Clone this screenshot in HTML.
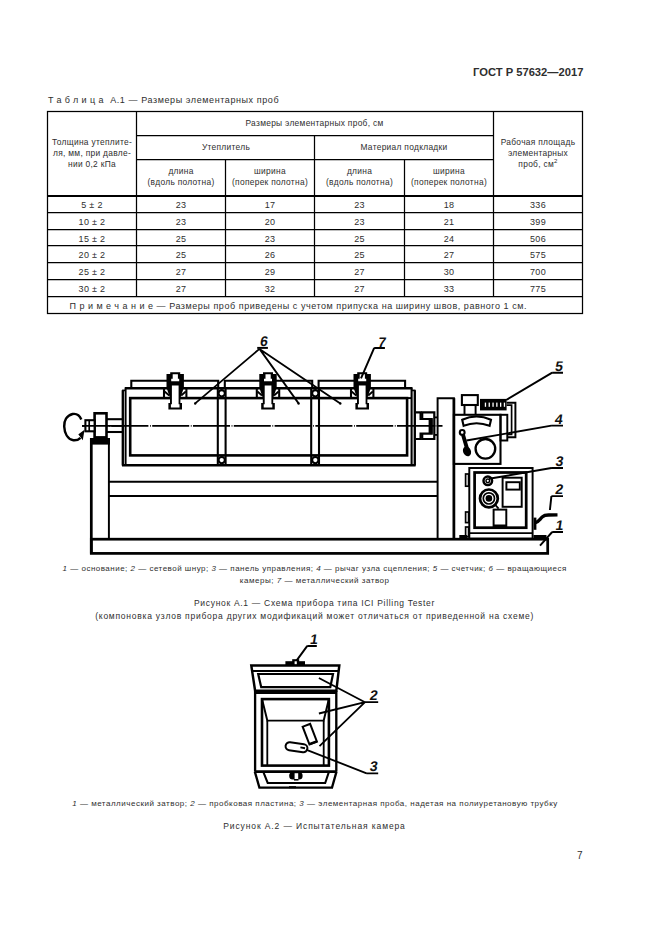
<!DOCTYPE html>
<html><head><meta charset="utf-8">
<style>
html,body{margin:0;padding:0;background:#fff;}
body{width:661px;height:936px;position:relative;overflow:hidden;font-family:"Liberation Sans",sans-serif;color:#2e2e2e;}
.t{position:absolute;white-space:nowrap;line-height:1;}
.c{position:absolute;white-space:nowrap;line-height:1;text-align:center;width:600px;}
i{font-style:italic;}
svg{position:absolute;left:0;top:0;}
</style></head><body>
<div class="t" style="left:473px;top:67px;font-size:11.2px;font-weight:bold;">ГОСТ Р 57632—2017</div>
<div class="t" style="left:48px;top:95.5px;font-size:9px;letter-spacing:0.59px"><span style="letter-spacing:3.35px">Таблиц</span>а&nbsp; А.1 — Размеры элементарных проб</div>

<svg width="661" height="936" viewBox="0 0 661 936">
<g stroke="#000" stroke-width="1.25" fill="none">
<rect x="47.5" y="111.5" width="535" height="202"/>
<line x1="136.5" y1="111.5" x2="136.5" y2="296.5"/>
<line x1="493.5" y1="111.5" x2="493.5" y2="296.5"/>
<line x1="136.5" y1="135.5" x2="493.5" y2="135.5"/>
<line x1="136.5" y1="159.5" x2="493.5" y2="159.5"/>
<line x1="314.5" y1="135.5" x2="314.5" y2="296.5"/>
<line x1="225.5" y1="159.5" x2="225.5" y2="296.5"/>
<line x1="404.5" y1="159.5" x2="404.5" y2="296.5"/>
<line x1="47.5" y1="196" x2="582.5" y2="196" stroke-width="2.2"/>
<line x1="47.5" y1="212.5" x2="582.5" y2="212.5"/>
<line x1="47.5" y1="229.5" x2="582.5" y2="229.5"/>
<line x1="47.5" y1="245.5" x2="582.5" y2="245.5"/>
<line x1="47.5" y1="262.5" x2="582.5" y2="262.5"/>
<line x1="47.5" y1="279.5" x2="582.5" y2="279.5"/>
<line x1="47.5" y1="296.5" x2="582.5" y2="296.5"/>
</g>
</svg>
<div id="tbl" style="position:absolute;left:0;top:0;font-size:8.4px;letter-spacing:0.3px;">
<div class="c" style="left:-208px;top:137px;line-height:10.8px;">Толщина утеплите-<br>ля, мм, при давле-<br>нии 0,2 кПа</div>
<div class="c" style="left:14.5px;top:119px;">Размеры элементарных проб, см</div>
<div class="c" style="left:-74px;top:143px;">Утеплитель</div>
<div class="c" style="left:104px;top:143px;">Материал подкладки</div>
<div class="c" style="left:-119px;top:166.3px;line-height:10.7px;">длина<br>(вдоль полотна)</div>
<div class="c" style="left:-30px;top:166.3px;line-height:10.7px;">ширина<br>(поперек полотна)</div>
<div class="c" style="left:59.5px;top:166.3px;line-height:10.7px;">длина<br>(вдоль полотна)</div>
<div class="c" style="left:149px;top:166.3px;line-height:10.7px;">ширина<br>(поперек полотна)</div>
<div class="c" style="left:238px;top:137.3px;line-height:10.8px;">Рабочая площадь<br>элементарных<br>проб, см<sup style="font-size:6px;vertical-align:4px;line-height:0">2</sup></div>
</div>
<div id="rows" style="position:absolute;left:0;top:0;font-size:9px;letter-spacing:0.3px;">
<div class="c" style="left:-208.0px;top:201.4px;">5 ± 2</div>
<div class="c" style="left:-119.0px;top:201.4px;">23</div>
<div class="c" style="left:-30.0px;top:201.4px;">17</div>
<div class="c" style="left:59.5px;top:201.4px;">23</div>
<div class="c" style="left:149.0px;top:201.4px;">18</div>
<div class="c" style="left:238.0px;top:201.4px;">336</div>
<div class="c" style="left:-208.0px;top:218.2px;">10 ± 2</div>
<div class="c" style="left:-119.0px;top:218.2px;">23</div>
<div class="c" style="left:-30.0px;top:218.2px;">20</div>
<div class="c" style="left:59.5px;top:218.2px;">23</div>
<div class="c" style="left:149.0px;top:218.2px;">21</div>
<div class="c" style="left:238.0px;top:218.2px;">399</div>
<div class="c" style="left:-208.0px;top:234.7px;">15 ± 2</div>
<div class="c" style="left:-119.0px;top:234.7px;">25</div>
<div class="c" style="left:-30.0px;top:234.7px;">23</div>
<div class="c" style="left:59.5px;top:234.7px;">25</div>
<div class="c" style="left:149.0px;top:234.7px;">24</div>
<div class="c" style="left:238.0px;top:234.7px;">506</div>
<div class="c" style="left:-208.0px;top:251.2px;">20 ± 2</div>
<div class="c" style="left:-119.0px;top:251.2px;">25</div>
<div class="c" style="left:-30.0px;top:251.2px;">26</div>
<div class="c" style="left:59.5px;top:251.2px;">25</div>
<div class="c" style="left:149.0px;top:251.2px;">27</div>
<div class="c" style="left:238.0px;top:251.2px;">575</div>
<div class="c" style="left:-208.0px;top:268.2px;">25 ± 2</div>
<div class="c" style="left:-119.0px;top:268.2px;">27</div>
<div class="c" style="left:-30.0px;top:268.2px;">29</div>
<div class="c" style="left:59.5px;top:268.2px;">27</div>
<div class="c" style="left:149.0px;top:268.2px;">30</div>
<div class="c" style="left:238.0px;top:268.2px;">700</div>
<div class="c" style="left:-208.0px;top:285.2px;">30 ± 2</div>
<div class="c" style="left:-119.0px;top:285.2px;">27</div>
<div class="c" style="left:-30.0px;top:285.2px;">32</div>
<div class="c" style="left:59.5px;top:285.2px;">27</div>
<div class="c" style="left:149.0px;top:285.2px;">33</div>
<div class="c" style="left:238.0px;top:285.2px;">775</div>
</div>

<div class="t" style="left:69.5px;top:301.5px;font-size:9px;letter-spacing:0.55px"><span style="letter-spacing:3.48px">Примечани</span>е — Размеры проб приведены с учетом припуска на ширину швов, равного 1 см.</div>
<div class="c" style="left:14.7px;top:565px;font-size:8px;letter-spacing:0.49px"><i>1</i> — основание; <i>2</i> — сетевой шнур; <i>3</i> — панель управления; <i>4</i> — рычаг узла сцепления; <i>5</i> — счетчик; <i>6</i> — вращающиеся</div>
<div class="c" style="left:14.7px;top:576.5px;font-size:8px;letter-spacing:0.52px">камеры; <i>7</i> — металлический затвор</div>
<div class="c" style="left:14.5px;top:599px;font-size:8.5px;letter-spacing:0.7px">Рисунок А.1 — Схема прибора типа ICI Pilling Tester</div>
<div class="c" style="left:14.7px;top:611.5px;font-size:8.5px;letter-spacing:0.76px">(компоновка узлов прибора других модификаций может отличаться от приведенной на схеме)</div>
<div class="c" style="left:15px;top:799.5px;font-size:8px;letter-spacing:0.51px"><i>1</i> — металлический затвор; <i>2</i> — пробковая пластина; <i>3</i> — элементарная проба, надетая на полиуретановую трубку</div>
<div class="c" style="left:14.5px;top:822px;font-size:8.5px;letter-spacing:0.88px">Рисунок А.2 — Испытательная камера</div>
<div class="t" style="left:577px;top:851px;font-size:10px;">7</div>
<svg id="fig1" width="661" height="936" viewBox="0 0 661 936"><g stroke="#000" fill="none" stroke-linecap="butt">
<path d="M131.3 388.2 V380.7 H218.2 V388.2" stroke-width="2.08" fill="none"/>
<path d="M224.8 388.2 V380.7 H312.2 V388.2" stroke-width="2.08" fill="none"/>
<path d="M318.6 388.2 V380.7 H405.1 V388.2" stroke-width="2.08" fill="none"/>
<line x1="124.9" y1="388.2" x2="412.3" y2="388.2" stroke-width="2.6"/>
<line x1="125.6" y1="387.5" x2="125.6" y2="465.5" stroke-width="1.95"/>
<line x1="122.8" y1="390.2" x2="122.8" y2="465.5" stroke-width="2.34"/>
<line x1="411.6" y1="387.5" x2="411.6" y2="465.5" stroke-width="2.08"/>
<line x1="414.8" y1="390.2" x2="414.8" y2="465.5" stroke-width="2.34"/>
<path d="M122.1 390.4 H125.6" stroke-width="1.69" fill="none"/>
<path d="M411.6 390.4 H415.5" stroke-width="1.69" fill="none"/>
<rect x="130.2" y="398.1" width="276.9" height="57.3" stroke-width="2.6" fill="none"/>
<line x1="407.1" y1="398.1" x2="411.8" y2="398.1" stroke-width="1.95"/>
<line x1="122.0" y1="465.3" x2="415.6" y2="465.3" stroke-width="2.6"/>
<line x1="217.8" y1="388.2" x2="217.8" y2="465.3" stroke-width="2.08"/>
<line x1="225.6" y1="388.2" x2="225.6" y2="465.3" stroke-width="2.08"/>
<line x1="311.2" y1="388.2" x2="311.2" y2="465.3" stroke-width="2.08"/>
<line x1="319.0" y1="388.2" x2="319.0" y2="465.3" stroke-width="2.08"/>
<line x1="82" y1="425.9" x2="442.5" y2="425.9" stroke-width="1.6" stroke-dasharray="37 1.6 0.8 1.4" stroke-dashoffset="11.4"/>
<circle cx="221.7" cy="393.3" r="3.15" stroke-width="2.08" fill="#fff"/>
<circle cx="221.7" cy="460.1" r="3.15" stroke-width="2.08" fill="#fff"/>
<circle cx="315.3" cy="393.3" r="3.15" stroke-width="2.08" fill="#fff"/>
<circle cx="315.3" cy="460.1" r="3.15" stroke-width="2.08" fill="#fff"/>
<path d="M164.0 388.2 V398.1 M186.4 388.2 V398.1" stroke-width="2.08" fill="none"/>
<path d="M164.6 391.5 L169.2 395.5 M185.8 391.5 L181.2 395.5" stroke-width="1.82" fill="none"/>
<path d="M170.2 372.2 H180.2 V374 H183.9 V387.5 L180.4 398 V403 H182.0 V409.6 H168.4 V403 H170.0 V398 L166.5 387.5 V374 H170.2 Z" fill="#000" stroke="none"/>
<path d="M172.7 374.2 H177.9 V378.8 H179.2 V381.3 H171.2 V378.8 H172.7 Z M171.9 385.5 H178.6 V404.3 H179.5 V407.6 H170.9 V404.3 H171.9 Z" fill="#fff" stroke="none"/>
<path d="M256.8 388.2 V398.1 M279.2 388.2 V398.1" stroke-width="2.08" fill="none"/>
<path d="M257.4 391.5 L262.0 395.5 M278.6 391.5 L274.0 395.5" stroke-width="1.82" fill="none"/>
<path d="M263.0 372.2 H273.0 V374 H276.7 V387.5 L273.2 398 V403 H274.8 V409.6 H261.2 V403 H262.8 V398 L259.3 387.5 V374 H263.0 Z" fill="#000" stroke="none"/>
<path d="M265.5 374.2 H270.7 V378.8 H272.0 V381.3 H264.0 V378.8 H265.5 Z M264.7 385.5 H271.4 V404.3 H272.3 V407.6 H263.7 V404.3 H264.7 Z" fill="#fff" stroke="none"/>
<path d="M351.0 388.2 V398.1 M373.4 388.2 V398.1" stroke-width="2.08" fill="none"/>
<path d="M351.6 391.5 L356.2 395.5 M372.8 391.5 L368.2 395.5" stroke-width="1.82" fill="none"/>
<path d="M357.2 372.2 H367.2 V374 H370.9 V387.5 L367.4 398 V403 H369.0 V409.6 H355.4 V403 H357.0 V398 L353.5 387.5 V374 H357.2 Z" fill="#000" stroke="none"/>
<path d="M359.7 374.2 H364.9 V378.8 H366.2 V381.3 H358.2 V378.8 H359.7 Z M358.9 385.5 H365.6 V404.3 H366.5 V407.6 H357.9 V404.3 H358.9 Z" fill="#fff" stroke="none"/>
<line x1="106.4" y1="419.2" x2="122.8" y2="419.2" stroke-width="2.08"/>
<line x1="106.4" y1="432.0" x2="122.8" y2="432.0" stroke-width="2.08"/>
<rect x="94.6" y="413.3" width="11.9" height="24.1" stroke-width="2.6" fill="#fff"/>
<rect x="85.4" y="420.2" width="9.2" height="11.1" stroke-width="2.08" fill="#fff"/>
<line x1="89.2" y1="420.2" x2="89.2" y2="431.3" stroke-width="1.69"/>
<line x1="82" y1="425.9" x2="122.8" y2="425.9" stroke-width="1.69"/>
<path d="M81.3 419.5 C79 414 75 413.6 72.6 414 C66.5 415.5 64 421 64.2 426.5 C64.5 433 67.5 439.2 73.4 440.3 C76.6 440.6 78.8 439.5 80.5 437.8" stroke-width="2.47" fill="none"/>
<path d="M79.2 434.5 L83.6 431.3 L82.4 438.6 Z" stroke-width="1.3" fill="#000"/>
<rect x="90.3" y="438.0" width="19.7" height="6.6" stroke="none" fill="#000"/>
<line x1="91.3" y1="438" x2="91.3" y2="553.5" stroke-width="2.73"/>
<line x1="108.9" y1="438" x2="108.9" y2="539.5" stroke-width="1.95"/>
<line x1="108.9" y1="481.8" x2="437.6" y2="481.8" stroke-width="1.95"/>
<line x1="108.9" y1="496.0" x2="437.6" y2="496.0" stroke-width="1.95"/>
<rect x="91.3" y="539.2" width="456.4" height="14.2" stroke-width="2.73" fill="none"/>
<path d="M437.6 539.2 V398.2 H453.9 V539.2" stroke-width="1.95" fill="none"/>
<line x1="453.9" y1="398.2" x2="453.9" y2="539.2" stroke-width="2.73"/>
<path d="M415.8 412.4 H420.6 V419 H431.7 V433.6 H420.6 V439 H415.8" stroke-width="2.21" fill="none"/>
<rect x="428.6" y="419.0" width="3.8" height="14.6" stroke="none" fill="#000"/>
<path d="M422.2 419 V412.4 H434.3 V439 H422.2 V433.6" stroke-width="2.21" fill="none"/>
<line x1="434.3" y1="417.4" x2="438" y2="417.4" stroke-width="1.82"/>
<line x1="434.3" y1="434.9" x2="438" y2="434.9" stroke-width="1.82"/>
<rect x="453.9" y="414.8" width="46.6" height="49.1" stroke-width="2.08" fill="none"/>
<rect x="461.9" y="395.1" width="15.9" height="9.9" stroke-width="2.08" fill="none"/>
<line x1="464.5" y1="405" x2="464.5" y2="414.8" stroke-width="1.95"/>
<line x1="475.6" y1="405" x2="475.6" y2="414.8" stroke-width="1.95"/>
<rect x="480.0" y="398.9" width="26.6" height="11.5" stroke="none" fill="#000"/>
<rect x="484.8" y="402.6" width="1.3" height="4.2" stroke="none" fill="#fff"/>
<rect x="488.6" y="402.6" width="1.3" height="4.2" stroke="none" fill="#fff"/>
<rect x="492.40000000000003" y="402.6" width="1.3" height="4.2" stroke="none" fill="#fff"/>
<rect x="496.2" y="402.6" width="1.3" height="4.2" stroke="none" fill="#fff"/>
<rect x="500.0" y="402.6" width="1.3" height="4.2" stroke="none" fill="#fff"/>
<rect x="503.8" y="402.6" width="1.3" height="4.2" stroke="none" fill="#fff"/>
<path d="M506.6 402.7 H515.4 V437.3 H507.3" stroke-width="1.95" fill="none"/>
<path d="M506.6 405.2 H511.6 V434.5 H507.3" stroke-width="1.69" fill="none"/>
<rect x="500.5" y="414.8" width="6.8" height="25.7" stroke-width="1.95" fill="none"/>
<path d="M462.2 419.8 Q476.5 413.2 491.0 419.8 L489.6 425.8 Q476.5 420.6 463.6 425.8 Z" stroke-width="2.08" fill="none"/>
<circle cx="462.2" cy="432.4" r="2.4" stroke-width="2.08" fill="#fff"/>
<line x1="463.0" y1="434.8" x2="467.0" y2="448.5" stroke-width="3.9"/>
<ellipse cx="467.0" cy="451.4" rx="3.9" ry="5.0" transform="rotate(-25 467 451.4)" fill="#000" stroke="none"/>
<circle cx="485.4" cy="448.8" r="9.8" stroke-width="2.34" fill="none"/>
<rect x="469.3" y="468.0" width="63.3" height="70.6" stroke-width="1.95" fill="none"/>
<rect x="474.6" y="472.5" width="51.6" height="55.2" stroke-width="2.73" fill="none"/>
<line x1="469.3" y1="533.1" x2="532.6" y2="533.1" stroke-width="1.69"/>
<rect x="465.6" y="474.0" width="3.0" height="12.2" stroke-width="1.69" fill="none"/>
<rect x="465.6" y="512.0" width="3.0" height="10.6" stroke-width="1.69" fill="none"/>
<rect x="465.6" y="527.0" width="3.0" height="9.8" stroke-width="1.69" fill="none"/>
<rect x="459.3" y="535.0" width="8.0" height="4.2" stroke="none" fill="#000"/>
<rect x="533.5" y="535.0" width="13.0" height="4.2" stroke="none" fill="#000"/>
<circle cx="487.8" cy="480.8" r="4.3" stroke-width="2.47" fill="none"/>
<circle cx="487.8" cy="480.8" r="1.8" stroke-width="1.43" fill="none"/>
<circle cx="488.9" cy="498.4" r="8.9" stroke-width="2.73" fill="none"/>
<circle cx="488.9" cy="498.4" r="5.6" stroke-width="1.69" fill="none"/>
<circle cx="488.9" cy="498.4" r="3.3" stroke-width="0.0" fill="#000"/>
<line x1="494.5" y1="504.0" x2="498.6" y2="508.6" stroke-width="1.82"/>
<rect x="502.6" y="477.7" width="19.1" height="29.1" stroke-width="1.95" fill="none"/>
<rect x="506.4" y="482.2" width="13.4" height="7.4" stroke-width="1.95" fill="none"/>
<rect x="493.6" y="509.6" width="12.7" height="17.1" stroke-width="1.95" fill="none"/>
<rect x="493.0" y="524.5" width="14.0" height="3.0" stroke="none" fill="#000"/>
<rect x="533.6" y="517.6" width="2.8" height="12.2" stroke="none" fill="#000"/>
<path d="M535.6 522.6 C538.5 522 540 519 542.5 516.8 C544 515.4 546 515 548.5 515 L557.5 514.9" stroke-width="3.38" fill="none"/>
<path d="M257.2 347.9 H267.9" stroke-width="1.95" fill="none"/>
<path d="M259.5 348.9 L195.2 403.4 M259.5 348.9 L298.6 403.4 M259.5 348.9 L340.3 403.4" stroke-width="1.82" fill="none"/>
<circle cx="195.2" cy="403.5" r="1.2" stroke-width="0.0" fill="#000"/>
<circle cx="298.6" cy="403.5" r="1.2" stroke-width="0.0" fill="#000"/>
<circle cx="340.3" cy="403.5" r="1.2" stroke-width="0.0" fill="#000"/>
<path d="M374.2 347.9 H384.9 M374.2 347.9 L361.0 378.4" stroke-width="1.95" fill="none"/>
<path d="M552.2 372.7 H563 M552.2 372.7 L506.2 400.0" stroke-width="1.95" fill="none"/>
<path d="M551.4 425.6 H563 M551.4 425.6 L466.5 440.5" stroke-width="1.95" fill="none"/>
<path d="M551.4 468.0 H563 M551.4 468.0 L489.0 478.8" stroke-width="1.95" fill="none"/>
<path d="M551.4 496.1 H563 M551.4 496.1 L549.9 510.0" stroke-width="1.95" fill="none"/>
<path d="M552.2 532.0 H563 M552.2 532.0 L540.0 545.6" stroke-width="1.95" fill="none"/>

</g>
<g font-family="Liberation Sans" font-weight="bold" font-size="14" fill="#111">
<text transform="translate(259.6 345.8) skewX(-9)">6</text>
<text transform="translate(377.4 347) skewX(-9)">7</text>
<text transform="translate(554.6 370.6) skewX(-9)">5</text>
<text transform="translate(554.3 423.5) skewX(-9)">4</text>
<text transform="translate(554.9 466.2) skewX(-9)">3</text>
<text transform="translate(554.7 494.4) skewX(-9)">2</text>
<text transform="translate(555.1 530.4) skewX(-9)">1</text>
</g></svg>
<svg id="fig2" width="661" height="936" viewBox="0 0 661 936"><g stroke="#000" fill="none">
<rect x="285.4" y="661.2" width="19.6" height="4.4" stroke="none" fill="#000"/>
<rect x="292.2" y="659.2" width="7.0" height="5.8" stroke="none" fill="#000"/>
<rect x="294.6" y="661.3" width="2.2" height="3.3" stroke="none" fill="#fff"/>
<path d="M251.3 665.6 H339.3 L336.3 690.8 H255.1 Z" stroke-width="2.47" fill="none" />
<line x1="252.0" y1="670.9" x2="338.6" y2="670.9" stroke-width="1.95"/>
<path d="M258.2 674.0 H333.0 L330.3 687.2 H261.2 Z" stroke-width="2.21" fill="none" />
<rect x="255.1" y="690.0" width="81.2" height="4.0" stroke="none" fill="#000"/>
<line x1="255.1" y1="690.8" x2="255.1" y2="771.6" stroke-width="2.34"/>
<line x1="336.3" y1="690.8" x2="336.3" y2="771.6" stroke-width="2.34"/>
<rect x="262.0" y="699.1" width="66.9" height="66.5" stroke-width="2.6" fill="none"/>
<path d="M262 699.1 L267.3 720.6 H323.7 L328.9 699.1" stroke-width="1.95" fill="none" />
<line x1="267.3" y1="720.6" x2="267.3" y2="765.6" stroke-width="1.82"/>
<line x1="323.7" y1="720.6" x2="323.7" y2="765.6" stroke-width="1.82"/>
<line x1="254.6" y1="771.6" x2="336.8" y2="771.6" stroke-width="2.73"/>
<path d="M254.8 771.6 L259.4 787.6 H332.0 L336.5 771.6" stroke-width="2.34" fill="none" />
<path d="M263.2 771.6 L267.7 783.0 H325.2 L329.0 771.6" stroke-width="2.08" fill="none" />
<rect x="289.2" y="772.0" width="13.4" height="7.6" rx="3.6" fill="#000" stroke="none"/>
<rect x="294.6" y="773.2" width="3.6" height="6.4" stroke="none" fill="#fff"/>
<line x1="294.0" y1="779.8" x2="298.5" y2="779.8" stroke-width="1.56"/>
<rect x="289.0" y="786.2" width="7.0" height="2.0" stroke="none" fill="#000"/>
<rect x="-4" y="-9.5" width="8" height="19" transform="translate(309.8 734.2) rotate(-21)" stroke-width="2.0" fill="#fff"/>
<line x1="-4" y1="9.2" x2="4" y2="9.2" transform="translate(309.8 734.2) rotate(-21)" stroke-width="2.4"/>
<rect x="-11" y="-4" width="22" height="8" rx="4" transform="translate(296.5 747.2) rotate(8)" stroke-width="2.0" fill="#fff"/>
<line x1="300.4" y1="747.4" x2="305.0" y2="748.2" stroke-width="1.95"/>
<path d="M307.3 645.9 H316.8 M307.3 645.9 L296.7 660.3" stroke-width="1.95" fill="none" />
<path d="M365 702.2 H378.2 M365 702.2 L318.9 678.0 M365 702.2 L318.9 713.5 M365 702.2 L319.5 746.2" stroke-width="1.82" fill="none" />
<path d="M366.6 773.3 H378.2 M366.6 773.3 L306.0 749.6" stroke-width="1.82" fill="none" />

</g>
<g font-family="Liberation Sans" font-weight="bold" font-size="14" fill="#111">
<text transform="translate(309.5 644.4) skewX(-9)">1</text>
<text transform="translate(369.3 700) skewX(-9)">2</text>
<text transform="translate(369.3 771) skewX(-9)">3</text>
</g></svg>
</body></html>
